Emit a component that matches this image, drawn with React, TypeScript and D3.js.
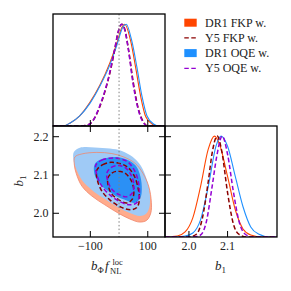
import React from "react";
import * as d3 from "d3";

const fnlTicks = [-100, 100];
const b1Ticks = [2.0, 2.1, 2.2];
const b1BottomTicks = [2.0, 2.1];
const fnlFiducial = 0;

const legendLabels = ["DR1 FKP w.", "Y5 FKP w.", "DR1 OQE w.", "Y5 OQE w."];
const legendKinds = ["fill", "dash", "fill", "dash"];
const legendColors = ["#ff4500", "#8b0000", "#1e90ff", "#9400d3"];

// 1D marginal of b_phi f_NL, [fNL, P / Pmax]
const fnlDR1FKP: [number, number][] = [
  [-230, 0], [-195, 0], [-170, 0.03], [-137, 0.1], [-102, 0.23], [-67, 0.4],
  [-32, 0.62], [-8, 0.81], [10, 0.97], [20, 1.0], [40, 0.84], [58, 0.57],
  [76, 0.28], [93, 0.09], [115, 0.02], [135, 0], [160, 0],
];
const fnlDR1OQE: [number, number][] = [
  [-230, 0], [-195, 0], [-170, 0.03], [-137, 0.1], [-102, 0.22], [-67, 0.39],
  [-32, 0.6], [-8, 0.79], [13, 0.97], [25, 1.0], [44, 0.84], [62, 0.58],
  [80, 0.29], [97, 0.1], [120, 0.02], [140, 0], [160, 0],
];
const fnlY5FKP: [number, number][] = [
  [-230, 0], [-130, 0], [-102, 0.02], [-85, 0.08], [-67, 0.19], [-50, 0.33],
  [-32, 0.52], [-15, 0.75], [-5, 0.9], [10, 1.0], [20, 0.95], [33, 0.75],
  [50, 0.42], [68, 0.16], [85, 0.04], [100, 0], [160, 0],
];
const fnlY5OQE: [number, number][] = [
  [-230, 0], [-130, 0], [-102, 0.02], [-85, 0.08], [-67, 0.2], [-50, 0.34],
  [-32, 0.53], [-15, 0.76], [-5, 0.9], [8, 1.0], [18, 0.96], [32, 0.76],
  [48, 0.43], [66, 0.17], [83, 0.04], [100, 0], [160, 0],
];

// 1D marginal of b1, [b1, P / Pmax]
const b1DR1FKP: [number, number][] = [
  [1.938, 0], [1.97, 0.01], [1.99, 0.05], [2.01, 0.19], [2.03, 0.5], [2.05, 0.87],
  [2.066, 1.0], [2.08, 0.91], [2.1, 0.6], [2.12, 0.27], [2.14, 0.08], [2.16, 0.02],
  [2.19, 0], [2.228, 0],
];
const b1DR1OQE: [number, number][] = [
  [1.938, 0], [1.96, 0], [1.99, 0.01], [2.01, 0.04], [2.03, 0.17], [2.05, 0.5],
  [2.07, 0.9], [2.083, 1.0], [2.1, 0.9], [2.12, 0.6], [2.14, 0.3], [2.16, 0.1],
  [2.18, 0.03], [2.21, 0], [2.228, 0],
];
const b1Y5FKP: [number, number][] = [
  [1.938, 0], [2.0, 0], [2.02, 0.03], [2.035, 0.19], [2.05, 0.55], [2.06, 0.83],
  [2.073, 1.0], [2.085, 0.85], [2.1, 0.44], [2.115, 0.13], [2.13, 0.025],
  [2.15, 0], [2.228, 0],
];
const b1Y5OQE: [number, number][] = [
  [1.938, 0], [2.01, 0], [2.03, 0.02], [2.045, 0.15], [2.06, 0.5], [2.072, 0.8],
  [2.086, 1.0], [2.1, 0.82], [2.115, 0.45], [2.13, 0.15], [2.145, 0.03],
  [2.165, 0], [2.228, 0],
];

// 2D contours, [fNL, b1]
const dr1FKPOuter: [number, number][] = [
  [-153.9, 2.147], [-129.5, 2.155], [-77.3, 2.159], [-25.1, 2.156], [16.7, 2.147],
  [55, 2.131], [82.9, 2.105], [103.8, 2.069], [112.5, 2.029], [110.7, 2.001],
  [96.8, 1.982], [72.4, 1.977], [37.6, 1.985], [-4.2, 2.001], [-49.4, 2.022],
  [-94.7, 2.045], [-129.5, 2.071], [-148.7, 2.103], [-155.6, 2.126],
];
const dr1FKPInner: [number, number][] = [
  [-84.3, 2.113], [-63.4, 2.125], [-32, 2.13], [2.8, 2.13], [34.1, 2.122],
  [58.5, 2.108], [74.2, 2.082], [79.4, 2.046], [74.2, 2.024], [55, 2.011],
  [20.2, 2.019], [-21.6, 2.035], [-59.9, 2.056], [-80.8, 2.077], [-87.7, 2.097],
];
const dr1OQEOuter: [number, number][] = [
  [-157.4, 2.16], [-136.5, 2.171], [-84.3, 2.172], [-32, 2.169], [9.7, 2.163],
  [48, 2.147], [75.9, 2.124], [96.8, 2.087], [107.2, 2.048], [105.5, 2.016],
  [93.3, 1.998], [72.4, 1.993], [37.6, 2.001], [-4.2, 2.016], [-49.4, 2.037],
  [-94.7, 2.061], [-129.5, 2.087], [-150.4, 2.118], [-159.1, 2.142],
];
const dr1OQEInner: [number, number][] = [
  [-84.3, 2.129], [-63.4, 2.141], [-32, 2.146], [2.8, 2.146], [34.1, 2.138],
  [58.5, 2.124], [74.2, 2.097], [79.4, 2.062], [74.2, 2.04], [55, 2.027],
  [20.2, 2.035], [-21.6, 2.05], [-59.9, 2.071], [-80.8, 2.092], [-87.7, 2.113],
];
const y5FKPOuter: [number, number][] = [
  [-77.3, 2.113], [-56.4, 2.127], [-28.6, 2.133], [2.8, 2.13], [30.6, 2.12],
  [53.3, 2.097], [67.2, 2.062], [70.7, 2.035], [62, 2.015], [41.1, 2.009],
  [6.3, 2.016], [-32, 2.035], [-59.9, 2.058], [-75.6, 2.087],
];
const y5FKPInner: [number, number][] = [
  [-39, 2.092], [-25.1, 2.105], [-4.2, 2.11], [20.2, 2.105], [41.1, 2.087],
  [51.5, 2.061], [46.3, 2.037], [27.2, 2.027], [-0.7, 2.035], [-25.1, 2.05],
  [-37.3, 2.071],
];
const y5OQEOuter: [number, number][] = [
  [-80.8, 2.126], [-59.9, 2.139], [-32, 2.144], [-0.7, 2.143], [30.6, 2.134],
  [53.3, 2.112], [67.2, 2.082], [70.7, 2.048], [62, 2.028], [41.1, 2.022],
  [6.3, 2.029], [-32, 2.048], [-59.9, 2.071], [-77.3, 2.1],
];
const y5OQEInner: [number, number][] = [
  [-42.5, 2.105], [-26.8, 2.12], [-4.2, 2.125], [20.2, 2.12], [41.1, 2.101],
  [51.5, 2.075], [46.3, 2.053], [27.2, 2.043], [-0.7, 2.049], [-25.1, 2.063],
  [-39, 2.084],
];

const X0 = 53, X1 = 165, X2 = 277;
const Y0 = 14, Y1 = 126, Y2 = 237;
const TICK = 6;
const SERIF = "'Liberation Serif', 'DejaVu Serif', serif";
const DASH = "4.5,2.5";

const App: React.FC = () => {
  const xF = d3.scaleLinear().domain([-230, 160]).range([X0, X1]);
  const yB = d3.scaleLinear().domain([1.938, 2.228]).range([Y2, Y1]);
  const xB = d3.scaleLinear().domain([1.938, 2.228]).range([X1, X2]);
  const yTop = d3.scaleLinear().domain([0, 1.1]).range([Y1, Y0]);
  const yRight = d3.scaleLinear().domain([0, 1.1]).range([Y2, Y1]);

  const topLine = d3
    .line<[number, number]>()
    .x((d) => xF(d[0]))
    .y((d) => yTop(d[1]))
    .curve(d3.curveMonotoneX);
  const rightLine = d3
    .line<[number, number]>()
    .x((d) => xB(d[0]))
    .y((d) => yRight(d[1]))
    .curve(d3.curveMonotoneX);
  const contour = d3
    .line<[number, number]>()
    .x((d) => xF(d[0]))
    .y((d) => yB(d[1]))
    .curve(d3.curveCatmullRomClosed.alpha(0.5));

  const frame = (x: number, y: number, w: number, h: number) => (
    <rect x={x} y={y} width={w} height={h} fill="none" stroke="#000" strokeWidth={1.3} />
  );

  return (
    <svg
      width={291}
      height={291}
      style={{ position: "absolute", left: 0, top: 0, background: "#fff" }}
    >
      <defs>
        <clipPath id="cTop">
          <rect x={X0} y={Y0} width={X1 - X0} height={Y1 - Y0} />
        </clipPath>
        <clipPath id="cMid">
          <rect x={X0} y={Y1} width={X1 - X0} height={Y2 - Y1} />
        </clipPath>
        <clipPath id="cRight">
          <rect x={X1} y={Y1} width={X2 - X1} height={Y2 - Y1} />
        </clipPath>
      </defs>

      {/* top: fNL marginal */}
      <g clipPath="url(#cTop)" fill="none">
        <path d={topLine(fnlDR1FKP) ?? ""} stroke="#ff4500" strokeWidth={1.1} />
        <path d={topLine(fnlDR1OQE) ?? ""} stroke="#1e90ff" strokeWidth={1.1} />
        <path d={topLine(fnlY5FKP) ?? ""} stroke="#8b0000" strokeWidth={1.5} strokeDasharray={DASH} />
        <path d={topLine(fnlY5OQE) ?? ""} stroke="#9400d3" strokeWidth={1.5} strokeDasharray={DASH} />
      </g>

      {/* 2D contours */}
      <g clipPath="url(#cMid)">
        <path d={contour(dr1FKPOuter) ?? ""} fill="#ffab8c" />
        <path d={contour(dr1FKPInner) ?? ""} fill="#ff6a33" />
        <path d={contour(dr1OQEOuter) ?? ""} fill="#9fcaf6" />
        <path d={contour(dr1OQEInner) ?? ""} fill="#2b90f5" />
        <path d={contour(dr1FKPOuter) ?? ""} fill="none" stroke="#f0866c" strokeWidth={0.8} />
        <path d={contour(y5FKPOuter) ?? ""} fill="none" stroke="#8b0000" strokeWidth={1.5} strokeDasharray={DASH} />
        <path d={contour(y5FKPInner) ?? ""} fill="none" stroke="#8b0000" strokeWidth={1.5} strokeDasharray={DASH} />
        <path d={contour(y5OQEOuter) ?? ""} fill="none" stroke="#9400d3" strokeWidth={1.5} strokeDasharray={DASH} />
        <path d={contour(y5OQEInner) ?? ""} fill="none" stroke="#9400d3" strokeWidth={1.5} strokeDasharray={DASH} />
      </g>

      {/* fiducial */}
      <line
        x1={xF(fnlFiducial)}
        x2={xF(fnlFiducial)}
        y1={Y0}
        y2={Y2}
        stroke="#808080"
        strokeWidth={1}
        strokeDasharray="1.5,2.2"
      />

      {/* right: b1 marginal */}
      <g clipPath="url(#cRight)" fill="none">
        <path d={rightLine(b1DR1FKP) ?? ""} stroke="#ff4500" strokeWidth={1.1} />
        <path d={rightLine(b1DR1OQE) ?? ""} stroke="#1e90ff" strokeWidth={1.1} />
        <path d={rightLine(b1Y5FKP) ?? ""} stroke="#8b0000" strokeWidth={1.5} strokeDasharray={DASH} />
        <path d={rightLine(b1Y5OQE) ?? ""} stroke="#9400d3" strokeWidth={1.5} strokeDasharray={DASH} />
      </g>

      {/* ticks */}
      <g stroke="#000" strokeWidth={1}>
        {fnlTicks.map((t) => (
          <g key={"f" + t}>
            <line x1={xF(t)} x2={xF(t)} y1={Y1} y2={Y1 - TICK} />
            <line x1={xF(t)} x2={xF(t)} y1={Y1} y2={Y1 + TICK} />
            <line x1={xF(t)} x2={xF(t)} y1={Y2} y2={Y2 - TICK} />
          </g>
        ))}
        {b1Ticks.map((t) => (
          <g key={"b" + t}>
            <line x1={X0} x2={X0 + TICK} y1={yB(t)} y2={yB(t)} />
            <line x1={X1} x2={X1 - TICK} y1={yB(t)} y2={yB(t)} />
            <line x1={X1} x2={X1 + TICK} y1={yB(t)} y2={yB(t)} />
          </g>
        ))}
        {b1BottomTicks.map((t) => (
          <line key={"r" + t} x1={xB(t)} x2={xB(t)} y1={Y2} y2={Y2 - TICK} />
        ))}
      </g>

      {frame(X0, Y0, X1 - X0, Y1 - Y0)}
      {frame(X0, Y1, X1 - X0, Y2 - Y1)}
      {frame(X1, Y1, X2 - X1, Y2 - Y1)}

      {/* tick labels */}
      <g fontFamily={SERIF} fontSize={12} fill="#222">
        {fnlTicks.map((t) => (
          <text key={"fl" + t} x={xF(t)} y={250} textAnchor="middle">
            {t < 0 ? "\u2212" + Math.abs(t) : String(t)}
          </text>
        ))}
        {b1Ticks.map((t) => (
          <text key={"bl" + t} x={48.5} y={yB(t) + 4} textAnchor="end">
            {t.toFixed(1)}
          </text>
        ))}
        {b1BottomTicks.map((t) => (
          <text key={"rl" + t} x={xB(t)} y={250} textAnchor="middle">
            {t.toFixed(1)}
          </text>
        ))}
      </g>

      {/* axis labels */}
      <g fontFamily={SERIF} fill="#222">
        <text x={91} y={270} fontSize={13} fontStyle="italic">b</text>
        <text x={97.5} y={273} fontSize={8.5}>Φ</text>
        <text x={105} y={270} fontSize={13} fontStyle="italic">f</text>
        <text x={110} y={273.5} fontSize={8.5}>NL</text>
        <text x={112.5} y={265} fontSize={8.5}>loc</text>

        <text x={215} y={270} fontSize={13} fontStyle="italic">b</text>
        <text x={221.5} y={273} fontSize={9}>1</text>

        <g transform="translate(23,181.5) rotate(-90)">
          <text x={-5} y={0} fontSize={13} fontStyle="italic">b</text>
          <text x={1.5} y={3} fontSize={9}>1</text>
        </g>
      </g>

      {/* legend */}
      <g fontFamily={SERIF} fontSize={12} fill="#222">
        {legendLabels.map((label, i) => {
          const cy = 22.7 + i * 15.2;
          return (
            <g key={label}>
              {legendKinds[i] === "fill" ? (
                <rect x={184.3} y={cy - 4} width={12.4} height={8} fill={legendColors[i]} />
              ) : (
                <line
                  x1={184.3}
                  x2={196.7}
                  y1={cy}
                  y2={cy}
                  stroke={legendColors[i]}
                  strokeWidth={1.3}
                  strokeDasharray={DASH}
                />
              )}
              <text x={205} y={cy + 4}>
                {label}
              </text>
            </g>
          );
        })}
      </g>
    </svg>
  );
};

export default App;
